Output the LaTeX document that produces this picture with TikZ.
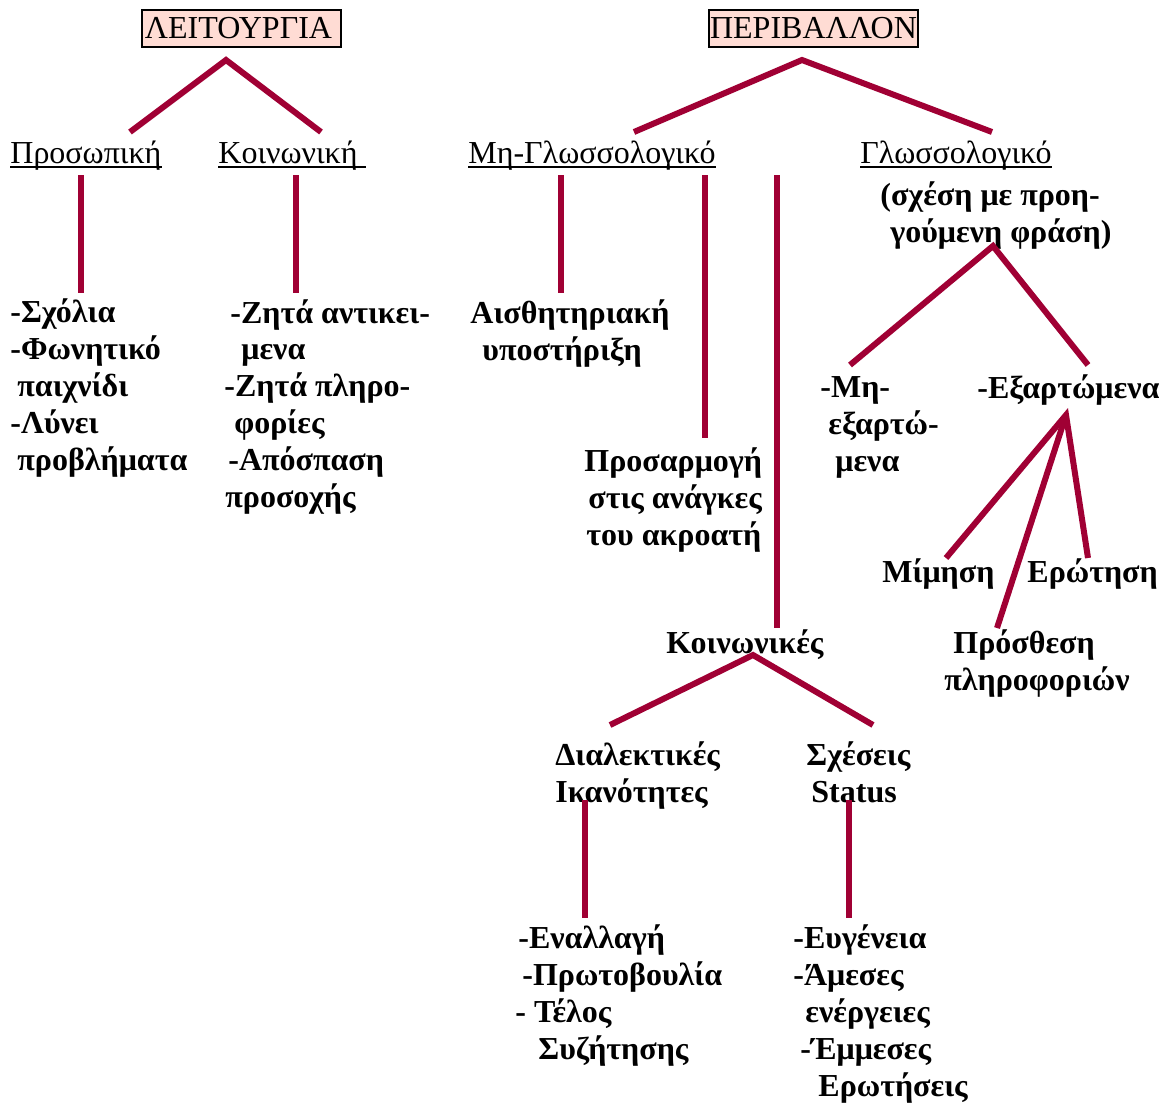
\documentclass[tikz,border=0pt]{standalone}
\usepackage{fontspec}
\setmainfont{Liberation Serif}
\definecolor{branch}{RGB}{160,0,52}
\definecolor{boxfill}{RGB}{255,220,212}
\tikzset{
	twig/.style={branch,line width=3pt},
	headbox/.style={draw,line width=1.3pt,fill=boxfill,inner sep=0pt,minimum width=99.5pt,minimum height=18.5pt,font=\fontsize{16}{18.4}\selectfont},
	cat/.style={inner sep=0pt,anchor=base west,font=\fontsize{16}{18.4}\selectfont},
	item/.style={inner sep=0pt,anchor=base west,align=left,font=\fontsize{16}{18.4}\selectfont\bfseries},
	uline/.style={line width=.7pt}
}
\newcommand\ind[1]{\hspace*{#1pt}}
\begin{document}
\begin{tikzpicture}[x=.5pt,y=-.5pt]
		\useasboundingbox(0,0)rectangle(1162,1104);
		% headings
		\node[headbox](leit)at(241.5,28.5){ΛΕΙΤΟΥΡΓΙΑ\ind{3}};
		\node[headbox,minimum width=104.5pt](perib)at(813.5,28.5){ΠΕΡΙΒΑΛΛΟΝ};
		% second level
		\node[cat](prosop)at(10,163){Προσωπική};
		\node[cat](koinon)at(218,163){Κοινωνική\ind{4}};
		\node[cat](mhgl)at(468,163){Μη-Γλωσσολογικό};
		\node[cat](gl)at(860,163){Γλωσσολογικό};
		\foreach\n in{prosop,koinon,mhgl,gl}{\draw[uline]([yshift=-2pt]\n.base west)--([yshift=-2pt]\n.base east);}
		% text blocks sit on the baseline of their last line
		\node[item](glnote)at(880,242){(σχέση με προη-\\\ind{5}γούμενη φράση)};
		\node[item](sxolia)at(10,470){-Σχόλια\\-Φωνητικό\\\ind{3.5}παιχνίδι\\-Λύνει\\\ind{3.5}προβλήματα};
		\node[item](zhta)at(224,507){\ind{3}-Ζητά αντικει-\\\ind{8.5}μενα\\-Ζητά πληρο-\\\ind{5}φορίες\\\ind{2}-Απόσπαση\\\ind{.5}προσοχής};
		\node[item](aisth)at(470,360){Αισθητηριακή\\\ind{6}υποστήριξη};
		\node[item](prosarm)at(584,545){Προσαρμογή\\\ind{2}στις ανάγκες\\\ind{1}του ακροατή};
		\node[item](koinwnikes)at(666,653){Κοινωνικές};
		\node[item](dial)at(555,802){Διαλεκτικές\\Ικανότητες};
		\node[item](sxeseis)at(806,802){Σχέσεις\\\ind{2.5}Status};
		\node[item](enall)at(515,1059){\ind{1.5}-Εναλλαγή\\\ind{3.5}-Πρωτοβουλία\\- Τέλος\\\ind{11.5}Συζήτησης};
		\node[item](eug)at(793,1096){-Ευγένεια\\-Άμεσες\\\ind{6}ενέργειες\\\ind{3.5}-Έμμεσες\\\ind{12.5}Ερωτήσεις};
		\node[item](mhexart)at(820,471){-Μη-\\\ind{4}εξαρτώ-\\\ind{7.5}μενα};
		\node[item](exart)at(977,398){-Εξαρτώμενα};
		\node[item](mimhsh)at(882,582){Μίμηση};
		\node[item](erwthsh)at(1027,582){Ερώτηση};
		\node[item](prosth)at(944,690){\ind{4.5}Πρόσθεση\\πληροφοριών};
		% branch points
		\coordinate(leit-b)at(226,60);
		\coordinate(perib-b)at(802,60);
		\coordinate(glnote-b)at(993,246);
		\coordinate(exart-b)at(1066,415);
		\coordinate(koinwnikes-b)at(753,655);
		% connectors
		\draw[twig](130,132)--(leit-b)--(321,132);
		\draw[twig](634,132)--(perib-b)--(992,132);
		\draw[twig](81,175)--(81,293);
		\draw[twig](296,175)--(296,293);
		\draw[twig](561,175)--(561,293);
		\draw[twig](705,175)--(705,438);
		\draw[twig](777,175)--(777,628);
		\draw[twig](850,365)--(glnote-b)--(1088,365);
		\draw[twig](946,558)--(exart-b)--(1088,558);
		\draw[twig](exart-b)--(997,628);
		\draw[twig](610,725)--(koinwnikes-b)--(873,725);
		\draw[twig](585,800)--(585,918);
		\draw[twig](849,800)--(849,918);
		\end{tikzpicture}
\end{document}
